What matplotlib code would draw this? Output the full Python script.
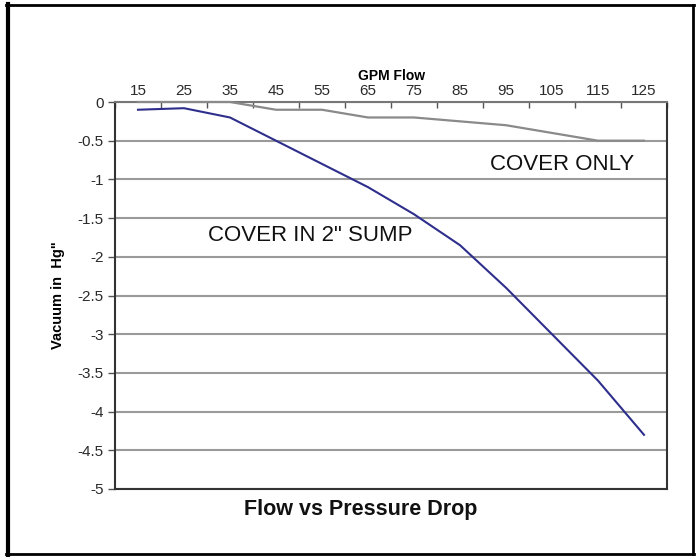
import matplotlib
matplotlib.use("Agg")
import matplotlib.pyplot as plt
from matplotlib.lines import Line2D
import numpy as np

flow = [15, 25, 35, 45, 55, 65, 75, 85, 95, 105, 115, 125]
cover_only = [0, 0, 0, -0.1, -0.1, -0.2, -0.2, -0.25, -0.3, -0.4, -0.5, -0.5]
cover_sump = [-0.1, -0.08, -0.2, -0.5, -0.8, -1.1, -1.45, -1.85, -2.4, -3.0, -3.6, -4.3]
y_ticks = [0, -0.5, -1, -1.5, -2, -2.5, -3, -3.5, -4, -4.5, -5]

plt.rcParams['font.family'] = ['Liberation Sans', 'DejaVu Sans']

W, H = 700, 557
fig = plt.figure(figsize=(W / 100, H / 100), dpi=100)
ax = fig.add_axes([115 / W, 1 - 489 / H, (667 - 115) / W, (489 - 102) / H])

x = np.arange(len(flow))
ax.plot(x, cover_only, color='#8a8a8a', lw=1.6, zorder=3, clip_on=False)
ax.plot(x, cover_sump, color='#2e2e8c', lw=1.5, zorder=4, clip_on=False)

ax.set_xlim(-0.5, len(flow) - 0.5)
ax.set_ylim(-5, 0)
ax.set_yticks(y_ticks)
ax.set_yticklabels([f"{v:g}" for v in y_ticks], fontsize=11, color='#2a2a2a')
ax.yaxis.grid(True, color='#9a9a9a', lw=1.5)
ax.set_axisbelow(True)

ax.xaxis.tick_top()
ax.set_xticks(np.arange(-0.5, len(flow) + 0.5, 1))
ax.set_xticklabels([])
ax.set_xticks(x, minor=True)
ax.set_xticklabels([str(f) for f in flow], minor=True, fontsize=11, color='#2a2a2a')
ax.tick_params(axis='x', which='major', direction='in', length=4, color='#555555', width=1)
ax.tick_params(axis='x', which='minor', length=0, pad=3)
ax.tick_params(axis='y', direction='out', length=5, color='#555555', width=1, pad=3)

for s in ax.spines.values():
    s.set_color('#333333')
    s.set_linewidth(1.5)
ax.spines['top'].set_color('#777777')

ax.set_xlabel('GPM Flow', fontsize=10, fontweight='bold', labelpad=3)
ax.xaxis.set_label_position('top')
ax.set_ylabel('Vacuum in  Hg"', fontsize=10.5, fontweight='bold', labelpad=9)

ax.text(9.22, -0.81, 'COVER ONLY', fontsize=16, ha='center', va='center', color='#111111')
ax.text(3.74, -1.73, 'COVER IN 2" SUMP', fontsize=16, ha='center', va='center', color='#111111')

fig.text(361 / W, 1 - 510 / H, 'Flow vs Pressure Drop', fontsize=15.5, fontweight='bold',
         ha='center', va='center', color='#111111')

# outer frame
fig.add_artist(Line2D([7.5 / W, 7.5 / W], [0, 1 - 4 / H], transform=fig.transFigure, color='black', lw=3))
fig.add_artist(Line2D([6 / W, 694 / W], [1 - 5 / H, 1 - 5 / H], transform=fig.transFigure, color='black', lw=2))
fig.add_artist(Line2D([6 / W, 694 / W], [1 - 554 / H, 1 - 554 / H], transform=fig.transFigure, color='black', lw=2))
fig.add_artist(Line2D([693 / W, 693 / W], [1 - 554 / H, 1 - 5 / H], transform=fig.transFigure, color='black', lw=2))

fig.savefig('out.png', dpi=100)
